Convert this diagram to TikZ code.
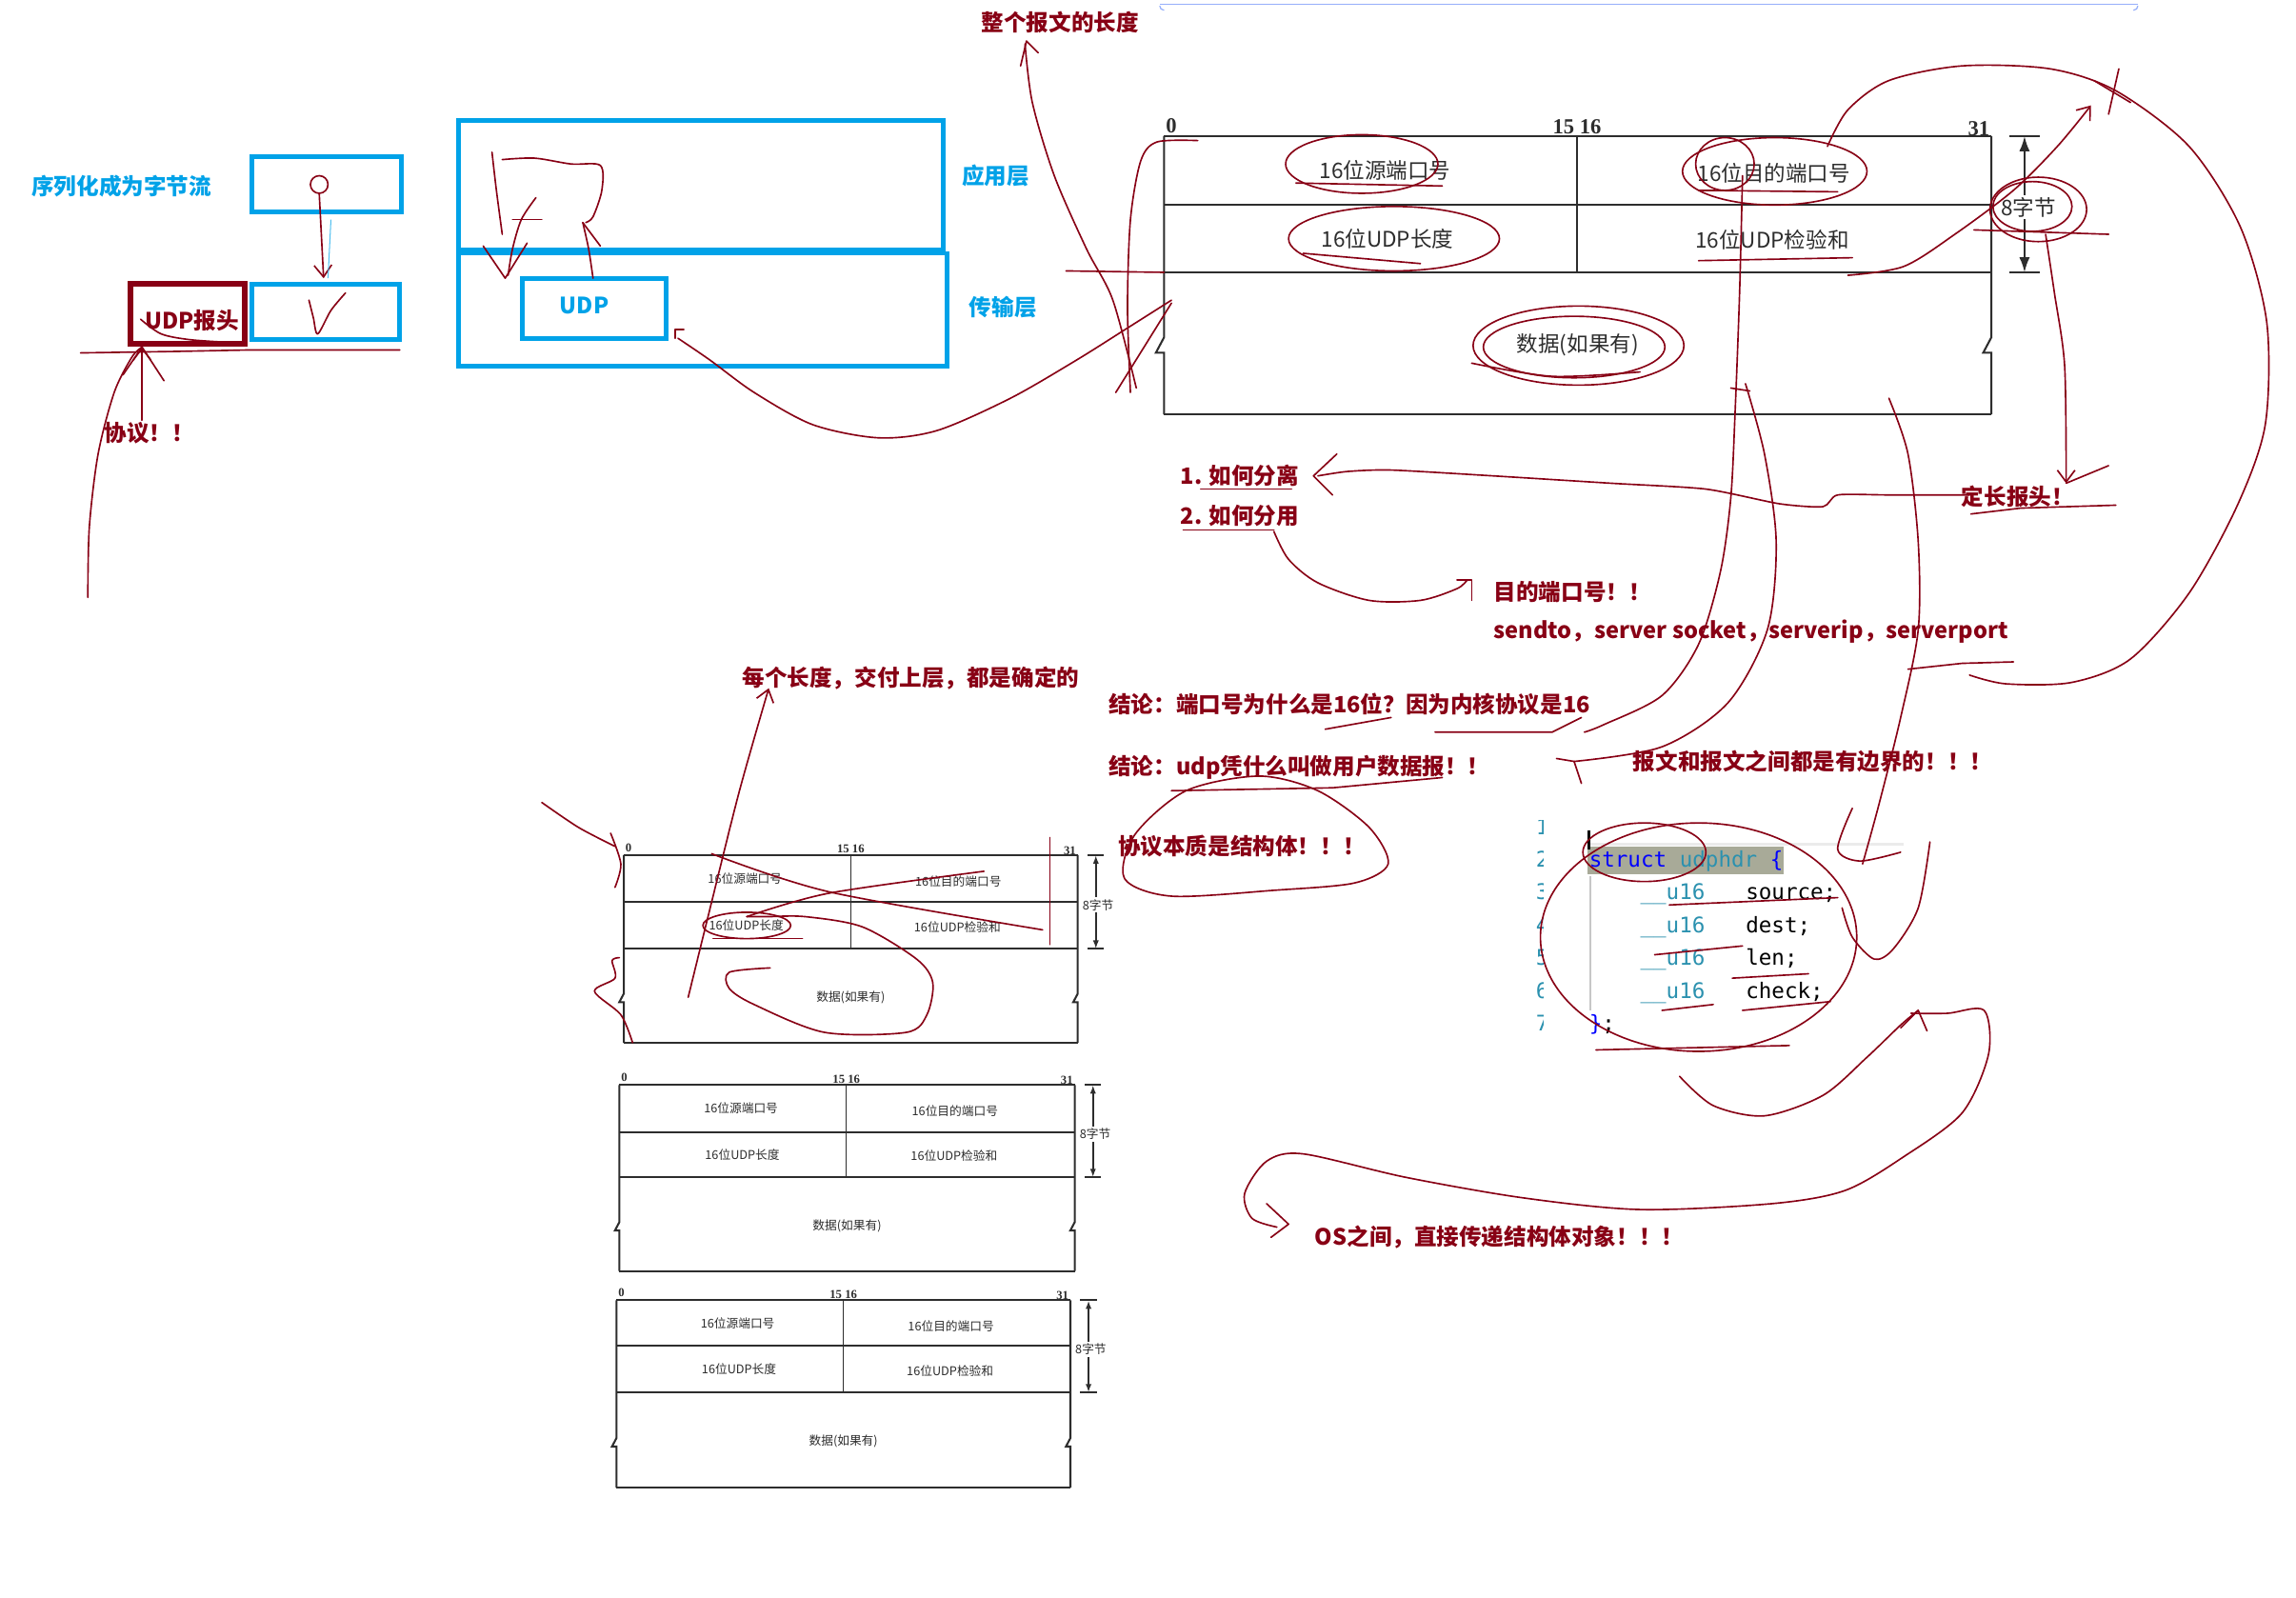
\documentclass[tikz,border=0pt]{standalone}
\usepackage{fontspec}
\setmainfont{Liberation Serif}
\newfontfamily\cjk{Noto Sans CJK SC}
\newfontfamily\mono{DejaVu Sans Mono}
\usetikzlibrary{arrows.meta}
\definecolor{pblue}{RGB}{0,162,232}
\definecolor{pred}{RGB}{136,0,21}
\definecolor{ink}{RGB}{45,45,45}
\definecolor{kwblue}{RGB}{0,0,255}
\definecolor{tyteal}{RGB}{43,145,175}
\definecolor{hl}{RGB}{168,170,152}
\definecolor{selblue}{RGB}{150,175,250}

\newcommand{\udptab}[9]{%
  \pgfmathsetmacro{\tW}{#3-#1}%
  \pgfmathsetmacro{\tax}{#3+0.04*\tW}%
  \pgfmathsetmacro{\tzy}{(#5+#6)/2+2}%
  \pgfmathsetmacro{\tzs}{0.011*\tW}%
  \pgfmathsetmacro{\ttk}{0.018*\tW}%
  \pgfmathsetmacro{\tal}{0.7*#8}%
  \draw[tline] (#1,#2) -- (#3,#2);
  \draw[tline] (#1,#4) -- (#3,#4);
  \draw[tline] (#1,#5) -- (#3,#5);
  \draw[tline] (#1,#6) -- (#3,#6);
  \draw[tline, line width=0.6pt] (#7,#2) -- (#7,#5);
  \draw[tline] (#1,#2) -- (#1,{\tzy-\tzs}) -- ({#1-0.9*\tzs},{\tzy+0.7*\tzs}) -- ({#1},{\tzy+0.7*\tzs}) -- (#1,#6);
  \draw[tline] (#3,#2) -- (#3,{\tzy-\tzs}) -- ({#3-0.9*\tzs},{\tzy+0.7*\tzs}) -- ({#3},{\tzy+0.7*\tzs}) -- (#3,#6);
  \node[tabtxt, font={\cjk\fontsize{#8}{#8}\selectfont}] (#9src) at ({#1+0.267*\tW},{(#2+#4)/2}) {16位源端口号};
  \node[tabtxt, font={\cjk\fontsize{#8}{#8}\selectfont}] (#9dst) at ({#1+0.737*\tW},{(#2+#4)/2+2}) {16位目的端口号};
  \node[tabtxt, font={\cjk\fontsize{#8}{#8}\selectfont}] (#9len) at ({#1+0.27*\tW},{(#4+#5)/2}) {16位UDP长度};
  \node[tabtxt, font={\cjk\fontsize{#8}{#8}\selectfont}] (#9chk) at ({#1+0.735*\tW},{(#4+#5)/2+1}) {16位UDP检验和};
  \node[tabtxt, font={\cjk\fontsize{#8}{#8}\selectfont}] (#9dat) at ({#1+0.5*\tW},{(#5+#6)/2+1}) {数据(如果有)};
  \node[tabtxt, anchor=south west, font={\bfseries\fontsize{#8}{#8}\selectfont}] (#9n0) at ({#1+1},{#2-2}) {0};
  \node[tabtxt, anchor=south, font={\bfseries\fontsize{#8}{#8}\selectfont}] (#9n15) at ({#7},{#2-1}) {15 16};
  \node[tabtxt, anchor=south east, font={\bfseries\fontsize{#8}{#8}\selectfont}] (#9n31) at ({#3-1},{#2}) {31};
  \draw[tline] ({\tax-\ttk},#2) -- ({\tax+\ttk},#2);
  \draw[tline] ({\tax-\ttk},#5) -- ({\tax+\ttk},#5);
  \draw[tline, {Latex[length=\tal pt, width=0.7*\tal pt]}-{Latex[length=\tal pt, width=0.7*\tal pt]}] (\tax,#2) -- (\tax,#5);
  \node[tabtxt, fill=white, inner sep=1pt, font={\cjk\fontsize{#8}{#8}\selectfont}] (#9byt) at ({\tax+0.005*\tW},{(#2+#5)/2+2}) {8字节};
}

\begin{document}
\begin{tikzpicture}[x=0.75pt,y=-0.75pt,
  bluebox/.style={draw=pblue,line width=2.4pt},
  redbox/.style={draw=pred,line width=2.8pt},
  btxt/.style={text=pblue,font=\cjk\bfseries\fontsize{11.5}{13}\selectfont,inner sep=0},
  rtxt/.style={text=pred,font=\cjk\bfseries\fontsize{11.5}{13}\selectfont,inner sep=0},
  pen/.style={draw=pred,line width=0.8pt,line cap=round,line join=round},
  penarrow/.style={pen,-{Straight Barb[length=6pt,width=9pt]}},
  tline/.style={draw=ink,line width=1pt},
  tabtxt/.style={text=ink,inner sep=0},
  code/.style={font=\mono\fontsize{11}{13}\selectfont,inner sep=0,anchor=base west},
]
\useasboundingbox (0,0) rectangle (1568,1091);
\fill[white] (0,0) rectangle (1568,1091);

% selection line at top
\draw[selblue, line width=0.6pt] (792,3) -- (1460,3);
\draw[selblue, line width=0.6pt] (792,4) arc[start angle=180, end angle=90, radius=3];
\draw[selblue, line width=0.6pt] (1460,4) arc[start angle=0, end angle=90, radius=3];

% ---------- blue boxes and texts ----------
\node[btxt] (serial) at (83,127) {序列化成为字节流};
\draw[bluebox] (172,107) rectangle (274,145);
\draw[bluebox] (172,194) rectangle (273,232);
\draw[redbox] (89,194) rectangle (167,235);
\node[rtxt] (udph) at (131,219) {UDP报头};
\draw[bluebox] (313,82) rectangle (644,171);
\draw[bluebox] (313,173) rectangle (647,250);
\draw[bluebox] (357,190) rectangle (455,231);
\node[btxt] (udp) at (399,209) {UDP};
\node[btxt] (yyc) at (680,120) {应用层};
\node[btxt] (csc) at (685,210) {传输层};

% ---------- tables ----------
\udptab{795}{93}{1360}{140}{186}{283}{1077}{11}{A}
\udptab{426}{584}{736}{616}{648}{712}{581}{6.2}{B}
\udptab{423}{741}{734}{773}{804}{868}{578}{6.2}{C}
\udptab{421}{888}{731}{919}{951}{1016}{576}{6.2}{D}

% ---------- code ----------
\fill[black!8] (1085,575.5) rectangle (1300,577.5);
\fill[hl] (1084,578) rectangle (1218,597);
\draw[black!22, line width=1.3pt] (1086,598) -- (1086,690);
\draw[black, line width=1.4pt] (1085,567) -- (1085,580);
\begin{scope}
  \clip (1048,560) rectangle (1054,720);
  \foreach \n/\yy in {1/570,2/592,3/614,4/637,5/659,6/682,7/704}
    \node[code, anchor=base east, text=tyteal] (ln\n) at (1058,\yy) {\n};
\end{scope}
\node[code] (st) at (1085,592) {\textcolor{kwblue}{struct} \textcolor{tyteal}{udphdr} \textcolor{kwblue}{\{}};
\node[code,text=tyteal] (u1) at (1120,614) {\_\_u16};
\node[code] (f1) at (1192,614) {source;};
\node[code,text=tyteal] (u2) at (1120,637) {\_\_u16};
\node[code] (f2) at (1192,637) {dest;};
\node[code,text=tyteal] (u3) at (1120,659) {\_\_u16};
\node[code] (f3) at (1192,659) {len;};
\node[code,text=tyteal] (u4) at (1120,682) {\_\_u16};
\node[code] (f4) at (1192,682) {check;};
\node[code] (cl) at (1085,704) {\textcolor{kwblue}{\}};};

% ---------- red texts ----------
\node[rtxt] (xieyi) at (102,296) {协议！！};
\node[rtxt] (whole) at (724,15) {整个报文的长度};
\node[rtxt,anchor=west] (fl) at (806,325) {1. 如何分离};
\node[rtxt,anchor=west] (fy) at (806,352) {2. 如何分用};
\node[rtxt] (dc) at (1378,339) {定长报头！};
\node[rtxt,anchor=west] (mdp) at (1020,404) {目的端口号！！};
\node[rtxt,anchor=west] (send) at (1020,431) {sendto，server socket，serverip，serverport};
\node[rtxt] (mgcd) at (622,463) {每个长度，交付上层，都是确定的};
\node[rtxt,anchor=west] (jl1) at (757,481) {结论：端口号为什么是16位？因为内核协议是16};
\node[rtxt,anchor=west] (jl2) at (757,524) {结论：udp凭什么叫做用户数据报！！};
\node[rtxt] (bw) at (1238,520) {报文和报文之间都是有边界的！！！};
\node[rtxt] (jgt) at (848,578) {协议本质是结构体！！！};
\node[rtxt] (os) at (1024,845) {OS之间，直接传递结构体对象！！！};

% ---------- pen strokes ----------
% top-left
\draw[pen] (218,126) ellipse [x radius=6, y radius=6];
\draw[penarrow] (218,132) -- (221,190);
\draw[draw=pblue!70, line width=0.5pt] (226,150) -- (224,190);
\draw[pen] plot[smooth] coordinates {(211,205) (214,217) (217,228) (226,212) (236,200)};
\draw[pen] plot[smooth] coordinates {(96,218) (110,228) (130,232) (160,234)};
\draw[pen] plot coordinates {(55,241) (120,240) (170,239) (273,239)};
\draw[penarrow] (97,287) -- (97,237);
\draw[pen] plot[smooth] coordinates {(60,408) (61,360) (67,310) (78,268) (90,244) (97,237)};
\draw[pen] (84,256) -- (97,237) -- (112,260);
% inside application layer
\draw[pen] plot[smooth] coordinates {(336,104) (339,130) (343,160)};
\draw[pen] plot[smooth] coordinates {(343,109) (365,108) (390,112) (410,113) (411,130) (405,148) (400,152)};
\draw[pen] plot[smooth] coordinates {(366,135) (356,150) (350,170) (347,188)};
\draw[pen] (330,168) -- (345,190) -- (360,166);
\draw[pen] (350,150) -- (370,150);
\draw[pen] plot[smooth] coordinates {(405,190) (402,170) (398,152)};
\draw[pen] (398,152) -- (410,168);
% from UDP box to table
\draw[pen] (461,231) -- (461,225) -- (467,225);
\draw[pen] plot[smooth] coordinates {(463,231) (485,246) (515,268) (555,290) (600,299) (640,294) (690,272) (735,246) (770,224) (800,205)};
% left of table A
\draw[pen] plot[smooth] coordinates {(818,96) (790,97) (779,110) (772,150) (770,210) (772,268)};
\draw[pen] plot[smooth] coordinates {(700,30) (705,70) (720,120) (742,170) (760,205) (776,265)};
\draw[pen] (697,45) -- (701,28) -- (709,36);
\draw[pen] (728,185) -- (795,186);
\draw[pen] (762,268) -- (800,207);
% ellipses on table A
\draw[pen] (930,112) ellipse [x radius=52, y radius=20];
\draw[pen] (885,125) -- (985,127);
\draw[pen] (952,163) ellipse [x radius=72, y radius=22];
\draw[pen] (890,173) -- (970,180);
\draw[pen] (1078,236) ellipse [x radius=72, y radius=27];
\draw[pen] (1075,237) ellipse [x radius=62, y radius=21];
\draw[pen] plot[smooth] coordinates {(1005,248) (1060,257) (1120,254)};
\draw[pen] (1212,117) ellipse [x radius=63, y radius=23];
\draw[pen] (1178,112) ellipse [x radius=20, y radius=18];
\draw[pen] (1160,130) -- (1255,131);
\draw[pen] (1160,178) -- (1265,176);
\draw[pen] (1392,143) ellipse [x radius=33, y radius=22];
\draw[pen] (1388,141) ellipse [x radius=27, y radius=17];
\draw[pen] (1348,157) -- (1440,160);
% big right loop
\draw[pen] plot[smooth] coordinates {(1248,100) (1262,75) (1290,55) (1340,45) (1400,47) (1445,62) (1495,100) (1530,155) (1548,220) (1547,290) (1528,345) (1495,405) (1455,450) (1415,466) (1370,467) (1345,461)};
\draw[penarrow] plot[smooth] coordinates {(1262,188) (1300,182) (1335,160) (1375,130) (1405,100) (1428,72)};
\draw[pen] (1430,55) -- (1455,70);
\draw[pen] (1447,47) -- (1440,78);
% 8 bytes -> fixed header
\draw[penarrow] plot[smooth] coordinates {(1397,160) (1403,200) (1410,250) (1411,330)};
\draw[pen] (1411,330) -- (1440,318);
\draw[pen] (1346,351) -- (1380,347) -- (1445,345);
% fixed header -> how to separate
\draw[pen] plot[smooth, tension=0.4] coordinates {(1345,338) (1290,338) (1255,338) (1245,346) (1215,344) (1165,334) (1100,330) (1020,325) (950,321) (920,322) (900,325)};
\draw[pen] (913,310) -- (897,325) -- (910,338);
\draw[pen] (820,334) -- (882,334);
\draw[pen] (808,362) -- (870,362);
% how to demux -> dest port
\draw[pen] plot[smooth] coordinates {(870,363) (880,382) (900,398) (935,410) (970,410) (995,402) (1002,396)};
\draw[pen] (995,396) -- (1005,396) -- (1005,410);
% long vertical curves
\draw[pen] plot[smooth] coordinates {(1190,120) (1188,200) (1185,280) (1182,340) (1175,390) (1160,440) (1135,475) (1095,495) (1082,500)};
\draw[pen] (1182,265) -- (1195,267);
\draw[pen] plot[smooth] coordinates {(1192,262) (1205,310) (1213,370) (1207,430) (1180,480) (1135,510) (1075,520)};
\draw[pen] (1063,518) -- (1075,520) -- (1080,535);
\draw[pen] plot[smooth] coordinates {(1290,272) (1303,310) (1310,370) (1310,430) (1298,490) (1283,550) (1272,590)};
\draw[pen] (1303,457) -- (1340,453) -- (1375,452);
% conclusion underlines and loop
\draw[pen] (905,498) -- (950,490);
\draw[pen] (980,500) -- (1060,500) -- (1080,490);
\draw[pen] (800,540) -- (910,538) -- (985,531);
\draw[pen] plot[smooth cycle] coordinates {(860,530) (900,540) (935,565) (948,590) (925,603) (870,608) (800,612) (768,600) (775,570) (810,540)};
% code area
\draw[pen] (1160,640) ellipse [x radius=108, y radius=78];
\draw[pen] (1123,582) ellipse [x radius=42, y radius=20];
\draw[pen] (1140,618) -- (1255,613);
\draw[pen] (1130,652) -- (1190,646);
\draw[pen] (1183,668) -- (1235,665);
\draw[pen] (1135,690) -- (1170,686);
\draw[pen] (1190,690) -- (1250,684);
\draw[pen] plot[smooth] coordinates {(1318,575) (1310,620) (1293,648) (1280,655) (1265,640) (1258,620)};
\draw[pen] plot[smooth] coordinates {(1265,552) (1255,580) (1270,588) (1298,582)};
\draw[pen] (1090,717) -- (1222,714);
% OS arrow
\draw[pen] plot[smooth] coordinates {(1305,692) (1330,692) (1355,690) (1358,720) (1340,760) (1300,790) (1260,813) (1210,822) (1120,826) (1040,818) (960,804) (890,788) (865,793) (850,815) (855,832) (872,838)};
\draw[pen] (865,822) -- (880,836) -- (868,845);
\draw[pen] plot[smooth] coordinates {(1147,735) (1170,755) (1205,762) (1245,748) (1275,722) (1298,700) (1310,690)};
\draw[pen] (1298,702) -- (1310,690) -- (1316,704);
% table B strokes
\draw[penarrow] plot[smooth] coordinates {(470,681) (485,620) (505,540) (525,470)};
\draw[pen] plot[smooth] coordinates {(370,548) (395,565) (420,578)};
\draw[pen] plot[smooth] coordinates {(417,569) (424,590) (420,606)};
\draw[pen] plot[smooth] coordinates {(423,654) (418,656) (420,668) (406,677) (424,693) (432,712)};
\draw[pen] plot[smooth] coordinates {(526,661) (498,664) (498,675) (515,686) (563,705) (619,705) (633,693) (637,671) (626,655) (589,633) (550,626) (524,626) (510,626)};
\draw[pen] (510,632) ellipse [x radius=30, y radius=9];
\draw[pen] (487,641) -- (548,641);
\draw[pen] plot[smooth] coordinates {(486,583) (566,609) (712,635)};
\draw[pen] plot[smooth] coordinates {(510,626) (566,610) (672,595)};
\draw[pen] (717,572) -- (717,645);
\end{tikzpicture}
\end{document}
